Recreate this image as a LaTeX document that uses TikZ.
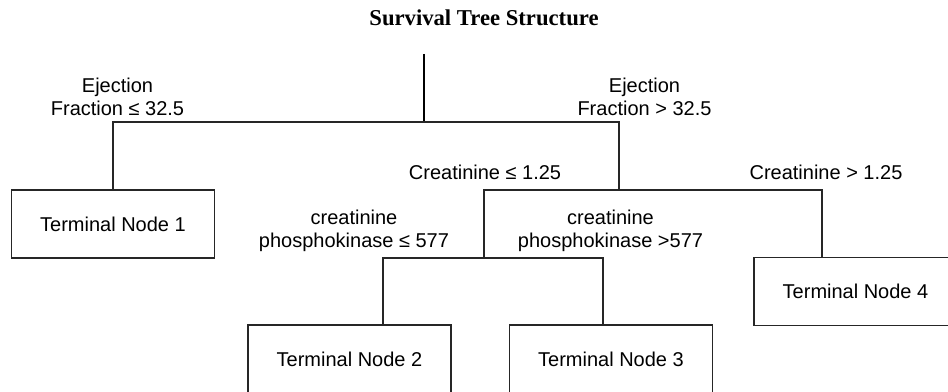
\documentclass[tikz,border=0pt]{standalone}
\usepackage{fontspec}
\setmainfont{Liberation Sans}
\newfontfamily\titlefont{Liberation Serif}
\begin{document}
\begin{tikzpicture}[x=0.75pt,y=-0.75pt,
    leaf/.style={draw=black!85, line width=1.1pt, minimum width=152pt, minimum height=51pt, inner sep=0pt, font=\fontsize{15}{17.25}\selectfont},
    rule/.style={align=center, inner sep=0pt, font=\fontsize{15}{17.25}\selectfont},
    branch/.style={draw=black!85, line width=1.1pt}]
  \useasboundingbox (0,0) rectangle (948,392);

  % Title
  \node[font=\titlefont\bfseries\fontsize{17}{20}\selectfont] (title) at (484,18) {Survival Tree Structure};

  % Terminal nodes
  \node[leaf] (t1) at (113,224) {Terminal Node 1};
  \node[leaf] (t2) at (349.5,359) {Terminal Node 2};
  \node[leaf] (t3) at (611,359) {Terminal Node 3};
  \node[leaf] (t4) at (855.5,291.5) {Terminal Node 4};

  % Split points
  \coordinate (top) at (424,54);
  \coordinate (s0) at (424,122);
  \coordinate (s1) at (619,190);
  \coordinate (s2) at (484,258);
  \coordinate (j2) at (383,325);
  \coordinate (j3) at (603,325);
  \coordinate (j4) at (822,258);

  % Branches
  \draw[branch, line width=2.2pt, draw=black] (top) -- (s0);
  \draw[branch] (s0) -| (t1.north);
  \draw[branch] (s0) -| (s1);
  \draw[branch] (s1) -| (s2);
  \draw[branch] (s1) -| (j4);
  \draw[branch] (s2) -| (j2);
  \draw[branch] (s2) -| (j3);

  % Split rules
  \node[rule] (ef-lo) at (117.5,97) {Ejection\\Fraction ≤ 32.5};
  \node[rule] (ef-hi) at (644.5,97) {Ejection\\Fraction > 32.5};
  \node[rule] (cr-lo) at (485,172) {Creatinine ≤ 1.25};
  \node[rule] (cr-hi) at (826,172) {Creatinine > 1.25};
  \node[rule] (cp-lo) at (354,231) {creatinine\\phosphokinase ≤ 577};
  \node[rule] (cp-hi) at (610.5,231) {creatinine\\phosphokinase >577};
\end{tikzpicture}
\end{document}
